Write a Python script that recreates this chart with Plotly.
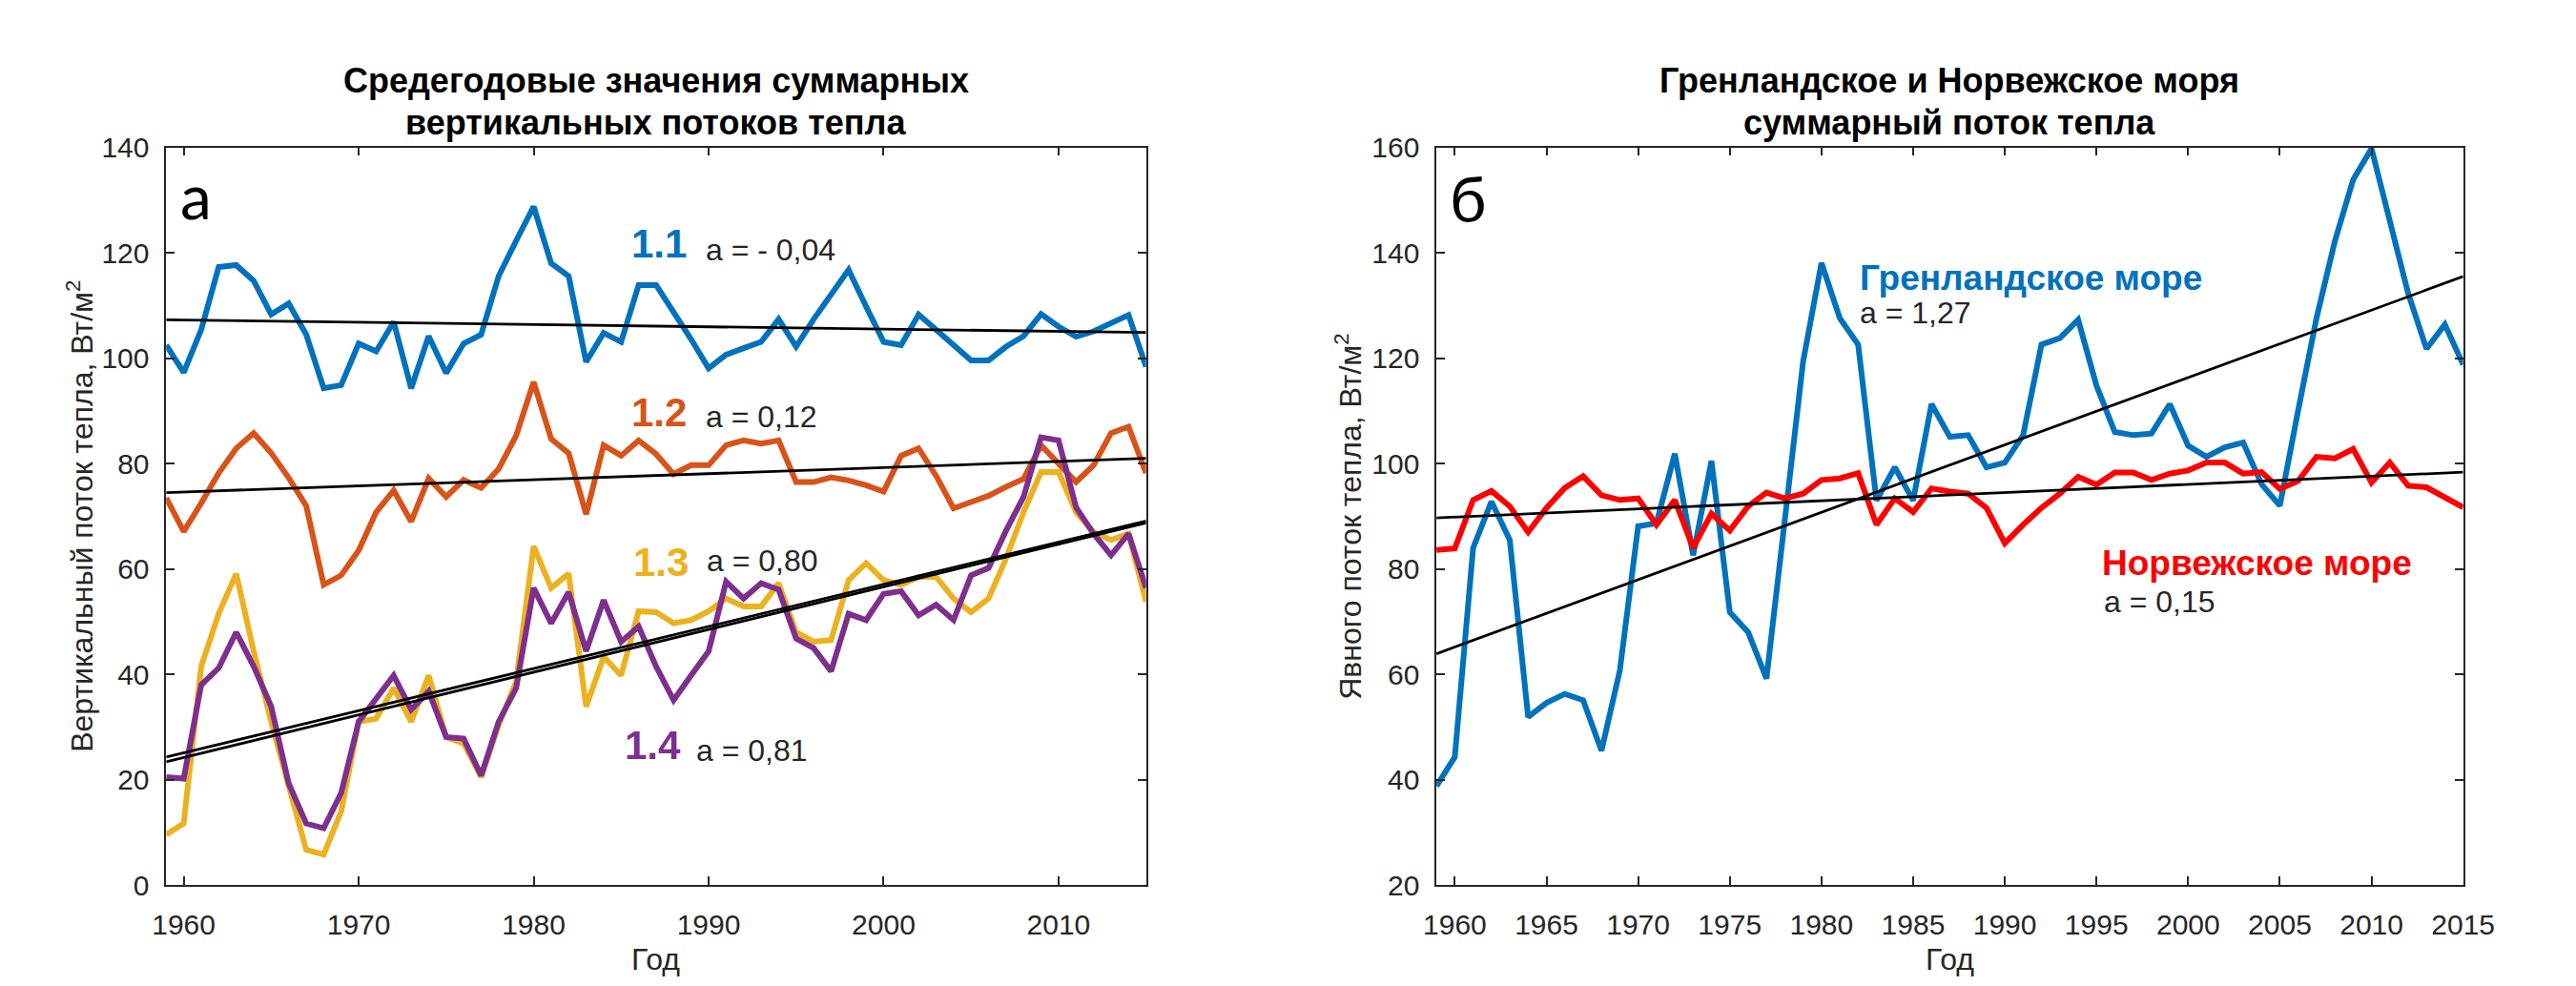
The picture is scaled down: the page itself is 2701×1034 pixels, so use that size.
import plotly.graph_objects as go

years = list(range(1959, 2016))

# Left panel: mean annual total vertical heat fluxes (W/m2)
s11 = [102.5, 97.3, 105.4, 117.3, 117.7, 114.7, 108.3, 110.4, 104.5, 94.3,
       94.9, 102.8, 101.3, 106.9, 94.3, 104.2, 97.2, 102.8, 104.5, 115.6,
       122.3, 128.8, 118.0, 115.6, 99.3, 104.8, 103.1, 113.9, 113.9, 108.9,
       103.6, 98.1, 100.7, 101.9, 103.1, 107.4, 102.2, 107.4, 112.1, 116.8,
       109.8, 103.1, 102.5, 108.3, 105.4, 102.5, 99.6, 99.6, 102.2, 104.2,
       108.4, 106.0, 104.1, 105.1, 106.6, 108.2, 98.4]
s12 = [73.5, 67.1, 72.5, 78.2, 82.9, 85.8, 82.0, 77.3, 72.0, 57.0,
       58.8, 63.5, 70.8, 74.9, 69.0, 77.2, 73.7, 76.9, 75.4, 79.0,
       85.3, 95.5, 84.7, 82.0, 70.4, 83.5, 81.5, 84.4, 81.8, 78.0,
       79.7, 79.7, 83.5, 84.4, 83.8, 84.4, 76.5, 76.5, 77.4, 76.8,
       75.9, 74.7, 81.5, 82.9, 77.7, 71.5, 72.7, 73.9, 75.6, 77.1,
       83.5, 80.0, 76.5, 79.7, 85.8, 87.0, 78.2]
s13 = [9.6, 11.7, 41.5, 51.5, 59.1, 44.4, 31.0, 19.3, 6.7, 5.8,
       14.0, 31.0, 31.6, 37.4, 31.0, 39.8, 28.1, 26.9, 20.5, 30.4,
       38.6, 64.3, 56.4, 59.1, 33.9, 43.3, 39.8, 52.0, 51.8, 49.7,
       50.3, 52.0, 54.4, 52.9, 52.9, 57.3, 48.0, 46.2, 46.5, 57.9,
       61.1, 57.9, 57.0, 58.5, 58.5, 54.4, 51.8, 54.4, 62.0, 70.8,
       78.4, 78.4, 70.8, 67.0, 65.5, 66.7, 53.8]
s14 = [20.5, 20.2, 38.0, 41.2, 48.0, 41.5, 33.9, 19.3, 11.7, 10.8,
       17.5, 31.0, 35.4, 39.8, 33.3, 36.8, 28.1, 27.8, 20.8, 31.0,
       37.4, 56.4, 49.7, 55.6, 44.4, 54.1, 46.2, 49.1, 41.5, 35.1,
       39.8, 44.4, 57.6, 54.4, 57.3, 56.1, 46.8, 45.0, 40.6, 51.5,
       50.3, 55.3, 55.8, 51.2, 53.2, 50.3, 58.8, 60.2, 67.3, 73.7,
       85.0, 84.4, 71.7, 66.7, 62.6, 66.7, 56.4]

# Right panel: Greenland and Norwegian seas total heat flux
greenland = [38.8, 44.3, 84.0, 92.8, 85.5, 51.9, 54.6, 56.3, 55.1, 45.5,
             60.7, 88.1, 88.7, 101.9, 82.6, 100.5, 71.8, 68.0, 59.2, 89.0,
             119.4, 138.1, 127.6, 122.6, 93.0, 99.3, 93.0, 111.3, 105.1, 105.4,
             99.3, 100.2, 105.4, 122.6, 123.8, 127.3, 114.8, 106.0, 105.4, 105.7,
             111.3, 103.4, 101.3, 103.1, 104.0, 96.1, 92.0, 110.1, 127.6, 142.2,
             153.9, 159.8, 146.3, 132.3, 121.8, 126.4, 118.8]
norwegian = [83.6, 83.9, 93.1, 94.8, 91.9, 87.0, 91.6, 95.4, 97.6, 94.0,
             93.1, 93.4, 88.4, 93.1, 84.0, 90.5, 87.3, 91.9, 94.5, 93.4,
             94.3, 96.9, 97.2, 98.2, 88.4, 93.4, 90.8, 95.3, 94.7, 94.3,
             91.6, 84.9, 88.4, 91.6, 94.3, 97.5, 96.0, 98.3, 98.3, 96.9,
             98.1, 98.7, 100.2, 100.2, 98.1, 98.4, 95.2, 96.7, 101.3, 101.0,
             102.8, 96.4, 100.2, 95.8, 95.5, 93.7, 91.7]

# Linear trends: value at first year and slope per year
left_trend_start = [107.3, 74.5, 24.3, 23.4]
left_trend_slope = [-0.043, 0.116, 0.80, 0.81]
right_trend_start = [63.9, 89.7]
right_trend_slope = [1.279, 0.155]

left_labels = ["1.1", "1.2", "1.3", "1.4"]
left_a_text = ["a = - 0,04", "a = 0,12", "a = 0,80", "a = 0,81"]
right_labels = ["Гренландское море", "Норвежское море"]
right_a_text = ["a = 1,27", "a = 0,15"]

left_ticks_x = [1960, 1970, 1980, 1990, 2000, 2010]
right_ticks_x = [1960, 1965, 1970, 1975, 1980, 1985, 1990, 1995, 2000, 2005, 2010, 2015]
left_ticks_y = [0, 20, 40, 60, 80, 100, 120, 140]
right_ticks_y = [20, 40, 60, 80, 100, 120, 140, 160]

C_BLUE = "#0072BD"
C_ORANGE = "#D95319"
C_YELLOW = "#EDB120"
C_PURPLE = "#7E2F8E"
C_RED = "#FF0000"
TXT = "#262626"
FONT = "Liberation Sans, Arial, sans-serif"

W, H = 2701, 1034
fig = go.Figure()

left_series = [s11, s12, s13, s14]
left_colors = [C_BLUE, C_ORANGE, C_YELLOW, C_PURPLE]
for s, c in zip(left_series, left_colors):
    fig.add_trace(go.Scatter(x=years, y=s, mode="lines", line=dict(color=c, width=6),
                             xaxis="x", yaxis="y", hoverinfo="skip"))
x0, x1 = years[0], years[-1]
for b, m in zip(left_trend_start, left_trend_slope):
    fig.add_trace(go.Scatter(x=[x0, x1], y=[b, b + m * (x1 - x0)], mode="lines",
                             line=dict(color="black", width=2.8), xaxis="x", yaxis="y",
                             hoverinfo="skip"))

for s, c in zip([greenland, norwegian], [C_BLUE, C_RED]):
    fig.add_trace(go.Scatter(x=years, y=s, mode="lines", line=dict(color=c, width=6),
                             xaxis="x2", yaxis="y2", hoverinfo="skip"))
for b, m in zip(right_trend_start, right_trend_slope):
    fig.add_trace(go.Scatter(x=[x0, x1], y=[b, b + m * (x1 - x0)], mode="lines",
                             line=dict(color="black", width=2.8), xaxis="x2", yaxis="y2",
                             hoverinfo="skip"))

# plot area in pixels
LX0, LX1 = 154, 1200
RX0, RX1 = 1510, 2606
PY0, PY1 = 135, 934

def axis_common():
    return dict(showline=True, linecolor=TXT, linewidth=1.5, mirror="ticks",
                ticks="inside", ticklen=9, tickwidth=1.5, tickcolor=TXT,
                showgrid=False, zeroline=False,
                tickfont=dict(family=FONT, size=30, color=TXT))

ydom = [1 - PY1 / H, 1 - PY0 / H]
fig.update_layout(
    width=W, height=H, margin=dict(l=0, r=0, t=0, b=0),
    paper_bgcolor="white", plot_bgcolor="white", showlegend=False,
    xaxis=dict(domain=[LX0 / W, LX1 / W], range=[1959, 2015], tickvals=left_ticks_x,
               ticklabelstandoff=14, anchor="y", **axis_common()),
    yaxis=dict(domain=ydom, range=[0, 140], tickvals=left_ticks_y,
               ticklabelstandoff=10, anchor="x", **axis_common()),
    xaxis2=dict(domain=[RX0 / W, RX1 / W], range=[1959, 2015], tickvals=right_ticks_x,
                ticklabelstandoff=14, anchor="y2", **axis_common()),
    yaxis2=dict(domain=ydom, range=[20, 160], tickvals=right_ticks_y,
                ticklabelstandoff=10, anchor="x2", **axis_common()),
)

ann = []
def add(text, x, y, xref, yref, size, color=TXT, bold=False, xanchor="left",
        yanchor="middle", family=FONT, angle=0):
    t = "<b>%s</b>" % text if bold else text
    ann.append(dict(text=t, x=x, y=y, xref=xref, yref=yref, showarrow=False,
                    xanchor=xanchor, yanchor=yanchor, textangle=angle,
                    font=dict(family=family, size=size, color=color)))

# Left panel labels
lab_x = [1985.5, 1985.5, 1985.6, 1985.1]
lab_y = [121.8, 89.8, 61.3, 26.5]
a_x = [1989.7, 1989.7, 1989.8, 1989.2]
a_y = [120.6, 88.9, 61.5, 25.6]
for i in range(4):
    add(left_labels[i], lab_x[i], lab_y[i], "x", "y", 42, color=left_colors[i], bold=True)
    add(left_a_text[i], a_x[i], a_y[i], "x", "y", 32)
add("а", 1959.7, 131.0, "x", "y", 66, color="black", family="Lato, Noto Sans, sans-serif")

# Right panel labels
add(right_labels[0], 1982.0, 135.2, "x2", "y2", 37, color=C_BLUE, bold=True)
add(right_a_text[0], 1982.0, 128.6, "x2", "y2", 32)
add(right_labels[1], 1995.2, 81.2, "x2", "y2", 37, color=C_RED, bold=True)
add(right_a_text[1], 1995.3, 73.8, "x2", "y2", 32)
add("б", 1959.6, 150.5, "x2", "y2", 66, color="black", family="Lato, Noto Sans, sans-serif")

# Titles
lc = (LX0 + LX1) / 2 / W
rc = (RX0 + RX1) / 2 / W
add("Средегодовые значения суммарных", lc, 1 - 63 / H, "paper", "paper", 36,
    color="black", bold=True, xanchor="center")
add("вертикальных потоков тепла", lc, 1 - 108 / H, "paper", "paper", 36,
    color="black", bold=True, xanchor="center")
add("Гренландское и Норвежское моря", rc, 1 - 63 / H, "paper", "paper", 36,
    color="black", bold=True, xanchor="center")
add("суммарный поток тепла", rc, 1 - 108 / H, "paper", "paper", 36,
    color="black", bold=True, xanchor="center")

# Axis titles
add("Год", lc, 1 - 1014 / H, "paper", "paper", 32, xanchor="center")
add("Год", rc, 1 - 1014 / H, "paper", "paper", 32, xanchor="center")
add("Вертикальный поток тепла, Вт/м<sup>2</sup>", 62 / W, 1 - 534 / H, "paper", "paper", 32,
    xanchor="center", angle=-90)
add("Явного поток тепла, Вт/м<sup>2</sup>", 1416 / W, 1 - 534 / H, "paper", "paper", 32,
    xanchor="center", angle=-90)

fig.update_layout(annotations=ann)
fig.write_html("out.html")
